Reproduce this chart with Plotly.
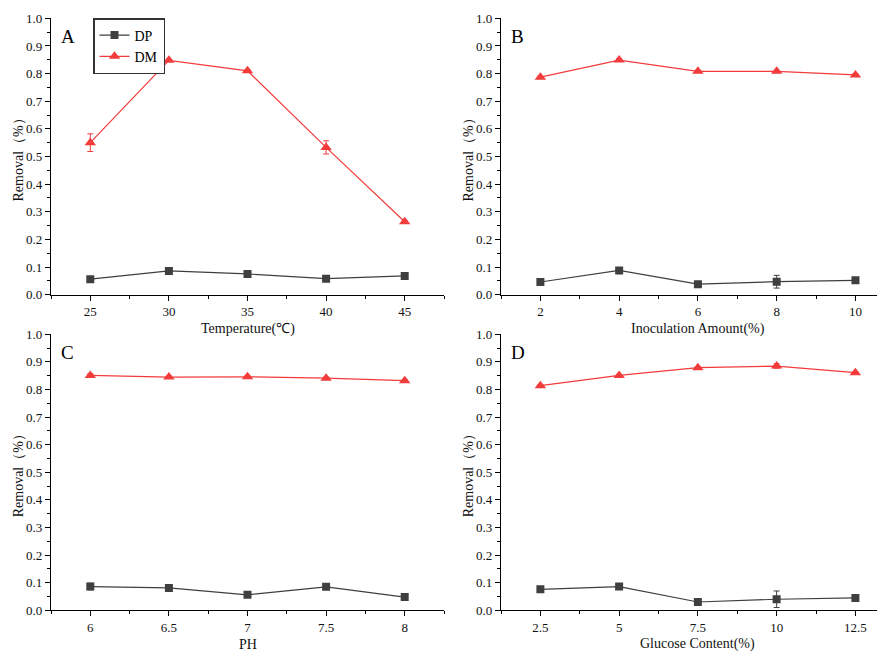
import plotly.graph_objects as go

# ---------------- data ----------------
temp_x = [25, 30, 35, 40, 45]
temp_dp = [0.056, 0.086, 0.075, 0.058, 0.068]
temp_dp_err = [0.004, 0.010, 0.004, 0.004, 0.004]
temp_dm = [0.550, 0.848, 0.810, 0.533, 0.264]
temp_dm_err = [0.032, 0.004, 0.004, 0.024, 0.004]

inoc_x = [2, 4, 6, 8, 10]
inoc_dp = [0.046, 0.088, 0.038, 0.047, 0.052]
inoc_dp_err = [0.004, 0.010, 0.004, 0.023, 0.004]
inoc_dm = [0.787, 0.849, 0.808, 0.808, 0.795]
inoc_dm_err = [0.004, 0.004, 0.004, 0.004, 0.004]

ph_x = [6, 6.5, 7, 7.5, 8]
ph_dp = [0.086, 0.081, 0.056, 0.085, 0.048]
ph_dp_err = [0.012, 0.004, 0.004, 0.010, 0.004]
ph_dm = [0.851, 0.845, 0.846, 0.841, 0.832]
ph_dm_err = [0.006, 0.004, 0.004, 0.004, 0.004]

glu_x = [2.5, 5, 7.5, 10, 12.5]
glu_dp = [0.076, 0.086, 0.030, 0.040, 0.045]
glu_dp_err = [0.004, 0.010, 0.004, 0.030, 0.008]
glu_dm = [0.814, 0.851, 0.879, 0.885, 0.861]
glu_dm_err = [0.004, 0.004, 0.004, 0.008, 0.004]

y_ticks = [0.0, 0.1, 0.2, 0.3, 0.4, 0.5, 0.6, 0.7, 0.8, 0.9, 1.0]
x_titles = ["Temperature(℃)", "Inoculation Amount(%)", "PH", "Glucose Content(%)"]
panel_labels = ["A", "B", "C", "D"]
y_title = "Removal（%）"

# ---------------- styling ----------------
OFF = 8  # page body margin
W, H = 885 - OFF, 653 - OFF
FONT = "Liberation Serif, Times New Roman, serif"
DP_COLOR = "#3f3f3f"
DM_COLOR = "#f23b3b"

def px_x(p):
    return (p - OFF) / W

def px_y(p):
    return 1 - (p - OFF) / H

panels = [
    dict(x=temp_x, dp=temp_dp, dpe=temp_dp_err, dm=temp_dm, dme=temp_dm_err,
         xdom=[px_x(51), px_x(444)], ydom=[px_y(294.7), px_y(18.3)], xr=[22.5, 47.5], dx=5),
    dict(x=inoc_x, dp=inoc_dp, dpe=inoc_dp_err, dm=inoc_dm, dme=inoc_dm_err,
         xdom=[px_x(501), 1.0], ydom=[px_y(294.7), px_y(18.3)], xr=[1, 10.75], dx=2),
    dict(x=ph_x, dp=ph_dp, dpe=ph_dp_err, dm=ph_dm, dme=ph_dm_err,
         xdom=[px_x(51), px_x(444)], ydom=[px_y(610.3), px_y(334.3)], xr=[5.75, 8.25], dx=0.5),
    dict(x=glu_x, dp=glu_dp, dpe=glu_dp_err, dm=glu_dm, dme=glu_dm_err,
         xdom=[px_x(501), 1.0], ydom=[px_y(610.3), px_y(334.3)], xr=[1.25, 13.44], dx=2.5),
]

fig = go.Figure()
annotations = []

for i, p in enumerate(panels):
    n = "" if i == 0 else str(i + 1)
    xa, ya = "x" + n, "y" + n
    fig.add_trace(go.Scatter(
        x=p["x"], y=p["dp"], mode="lines+markers", name="DP",
        xaxis=xa, yaxis=ya, showlegend=(i == 0),
        line=dict(color=DP_COLOR, width=1.2),
        marker=dict(symbol="square", size=8, color=DP_COLOR),
        error_y=dict(type="data", array=p["dpe"], color=DP_COLOR, thickness=1, width=3),
    ))
    fig.add_trace(go.Scatter(
        x=p["x"], y=p["dm"], mode="lines+markers", name="DM",
        xaxis=xa, yaxis=ya, showlegend=(i == 0),
        line=dict(color=DM_COLOR, width=1.2),
        marker=dict(symbol="triangle-up", size=10, color=DM_COLOR),
        error_y=dict(type="data", array=p["dme"], color=DM_COLOR, thickness=1, width=3),
    ))

    axis_common = dict(
        showgrid=False, zeroline=False, showline=True, linecolor="#000", linewidth=1.3,
        ticks="outside", ticklen=5, tickwidth=1, tickcolor="#000", automargin=False,
        tickfont=dict(family=FONT, size=13, color="#111"),
    )
    fig.layout["xaxis" + n] = dict(
        axis_common, domain=p["xdom"], range=p["xr"], anchor=ya,
        tickvals=p["x"], ticktext=[f"{v:g}" for v in p["x"]],
        minor=dict(ticks="outside", ticklen=3, tickwidth=1, tickcolor="#000",
                   dtick=p["dx"] / 2, tick0=p["x"][0]),
    )
    fig.layout["yaxis" + n] = dict(
        axis_common, domain=p["ydom"], range=[0, 1.0], anchor=xa,
        tickvals=y_ticks, tickformat=".1f",
        minor=dict(ticks="outside", ticklen=3, tickwidth=1, tickcolor="#000", dtick=0.05, tick0=0),
    )
    # x-axis title
    annotations.append(dict(
        text=x_titles[i], xref=xa, yref="paper",
        x=(p["x"][0] + p["x"][-1]) / 2,
        y=p["ydom"][0] - 34 / H, xanchor="center", yanchor="middle", showarrow=False,
        font=dict(family=FONT, size=14, color="#111"),
    ))
    # y-axis title
    annotations.append(dict(
        text=y_title, xref="paper", yref="paper", textangle=-90,
        x=p["xdom"][0] - 33 / W, y=sum(p["ydom"]) / 2,
        xanchor="center", yanchor="middle", showarrow=False,
        font=dict(family=FONT, size=14, color="#111"),
    ))
    # panel letter
    annotations.append(dict(
        text=panel_labels[i], xref="paper", yref="paper",
        x=p["xdom"][0] + 8 / W, y=p["ydom"][1] - 6 / H,
        xanchor="left", yanchor="top", showarrow=False,
        font=dict(family=FONT, size=19, color="#000"),
    ))

fig.update_layout(
    width=W, height=H,
    margin=dict(l=0, r=0, t=0, b=0, autoexpand=False),
    paper_bgcolor="white", plot_bgcolor="white",
    font=dict(family=FONT, color="#111"),
    annotations=annotations,
    legend=dict(
        x=px_x(93), y=px_y(18), xanchor="left", yanchor="top",
        bordercolor="#333", borderwidth=1.5, bgcolor="white",
        font=dict(family=FONT, size=14, color="#000"),
        tracegroupgap=0, itemwidth=30,
    ),
)

fig.write_html("out.html")
